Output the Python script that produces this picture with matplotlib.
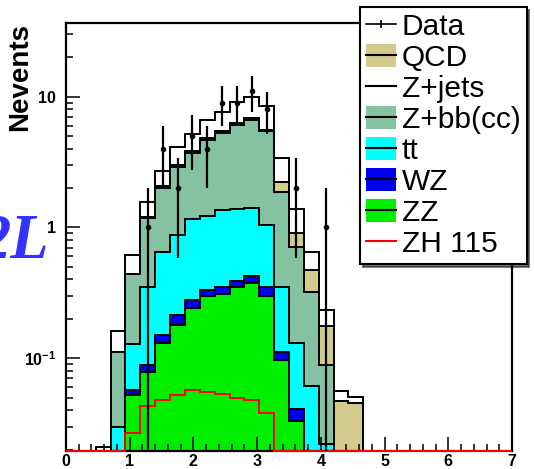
import numpy as np
import matplotlib
matplotlib.use('Agg')
import matplotlib.pyplot as plt
from matplotlib.lines import Line2D
from matplotlib.patches import Patch
from matplotlib.legend_handler import HandlerTuple
from matplotlib.ticker import MultipleLocator, LogLocator, NullFormatter

plt.rcParams['font.family'] = ['Liberation Sans', 'DejaVu Sans']
plt.rcParams['mathtext.fontset'] = 'custom'
plt.rcParams['mathtext.rm'] = 'Liberation Sans'
plt.rcParams['mathtext.bf'] = 'Liberation Sans:bold'

# 30 bins on [0, 7]; only bins 2..19 are filled
all_edges = np.linspace(0, 7, 31)
edges = all_edges[2:21]

zz = [0, 0, 0.052, 0.079, 0.130, 0.180, 0.241, 0.296, 0.310, 0.352, 0.378, 0.296, 0.097, 0.033, 0, 0, 0, 0]
wz = [0, 0, 0.0055, 0.010, 0.021, 0.034, 0.038, 0.037, 0.039, 0.040, 0.050, 0.056, 0.015, 0.0075, 0, 0, 0, 0]
tt = [0, 0.030, 0.071, 0.263, 0.502, 0.663, 0.877, 0.892, 1.012, 0.985, 0.988, 0.693, 0.240, 0.090, 0.061, 0.022, 0, 0]
zbb = [0, 0.082, 0.310, 0.823, 1.342, 2.040, 2.53, 3.44, 3.92, 4.70, 5.22, 4.36, 1.51, 0.583, 0.262, 0.067, 0, 0]
qcd = [0, 0, 0, 0.03, 0.06, 0.09, 0.12, 0.15, 0.17, 0.20, 0.22, 0.18, 0.373, 0.191, 0.150, 0.086, 0.047, 0.045]
zjets = [0.021, 0.048, 0.178, 0.37, 0.66, 1.14, 1.38, 1.82, 2.23, 2.88, 3.14, 2.90, 1.15, 0.473, 0.18, 0.059, 0.009, 0.0055]
zh115 = [0, 0, 0.0267, 0.0427, 0.048, 0.0524, 0.0572, 0.055, 0.053, 0.050, 0.048, 0.038, 0, 0, 0, 0, 0, 0]
data = [0, 0, 0, 1, 4, 2, 5, 4, 9, 9, 11, 8, 0, 2, 0, 1, 0, 0]

legend_labels = ['Data', 'QCD', 'Z+jets', 'Z+bb(cc)', 'tt', 'WZ', 'ZZ', 'ZH 115']

c_qcd = '#d3cb8b'
c_zbb = '#84c2a2'
c_tt = '#00ffff'
c_wz = '#0000f0'
c_zz = '#00ee00'

y_lo, y_hi = 0.0195, 36.5

fig = plt.figure(figsize=(5.34, 4.69), dpi=100)
ax = fig.add_axes([66 / 534, 18 / 469, 446 / 534, 428 / 469])
ax.set_yscale('log', nonpositive='clip')

# cumulative stack, drawn from the top layer down
cum = np.cumsum([zz, wz, tt, zbb, qcd, zjets], axis=0)
colors = [c_zz, c_wz, c_tt, c_zbb, c_qcd, 'white']
for layer, col in reversed(list(zip(cum, colors))):
    ax.stairs(np.maximum(layer, y_lo), edges, baseline=y_lo, fill=True,
              facecolor=col, edgecolor='black', linewidth=1.4)

# signal drawn on its own, across the whole range
zh_full = np.zeros(30)
zh_full[2:20] = zh115
ax.stairs(np.maximum(zh_full, y_lo), all_edges, baseline=None, color='red',
          linewidth=1.4, zorder=5, clip_on=False)

centers = 0.5 * (edges[:-1] + edges[1:])
n = np.array(data, dtype=float)
m = n > 0
ax.errorbar(centers[m], n[m], yerr=np.sqrt(n[m]), fmt='o', ms=3, color='black',
            elinewidth=1.6, capsize=0, zorder=6)

ax.set_xlim(0, 7)
ax.set_ylim(y_lo, y_hi)
ax.xaxis.set_major_locator(MultipleLocator(1))
ax.xaxis.set_minor_locator(MultipleLocator(0.2))
ax.set_yticks([0.1, 1, 10])
ax.set_yticklabels([r'$\mathbf{10^{-1}}$', '1', '10'])
ax.yaxis.set_minor_locator(LogLocator(base=10, subs=np.arange(2, 10)))
ax.yaxis.set_minor_formatter(NullFormatter())
ax.tick_params(which='both', direction='in', top=False, right=False, width=1.1)
ax.tick_params(which='major', length=10, labelsize=11.5)
ax.tick_params(which='minor', length=5)
ax.tick_params(axis='y', pad=7)
ax.tick_params(axis='x', pad=2)
for lab in ax.get_xticklabels() + ax.get_yticklabels():
    lab.set_fontweight('bold')
for sp in ax.spines.values():
    sp.set_linewidth(1.6)

ax.set_ylabel('Nevents', loc='top', fontsize=20, fontweight='bold')
ax.yaxis.set_label_coords(-0.073, 1.0)

fig.text(49 / 534, 1 - 258 / 469, '2L', fontsize=45, family='Liberation Serif',
         style='italic', weight='bold', color='#3333ff', ha='right', va='baseline')

handles = [
    Line2D([], [], color='black', lw=1.2, marker='|', ms=6, mew=1.2),
    (Patch(facecolor=c_qcd), Line2D([], [], color='black', lw=1.5)),
    Line2D([], [], color='black', lw=1.5),
    (Patch(facecolor=c_zbb), Line2D([], [], color='black', lw=1.5)),
    (Patch(facecolor=c_tt), Line2D([], [], color='black', lw=1.5)),
    (Patch(facecolor=c_wz), Line2D([], [], color='black', lw=1.5)),
    (Patch(facecolor=c_zz), Line2D([], [], color='black', lw=1.5)),
    Line2D([], [], color='red', lw=1.5),
]
leg = fig.legend(handles, legend_labels, loc='upper left',
                 bbox_to_anchor=(360 / 534, 1 - 7 / 469), borderaxespad=0,
                 prop={'size': 21.5}, handlelength=1.0, handleheight=0.77,
                 handletextpad=0.2, labelspacing=0.1, borderpad=0.2,
                 fancybox=False, framealpha=1, shadow={'color': 'black'},
                 handler_map={tuple: HandlerTuple(ndivide=1)})
leg.get_frame().set_edgecolor('black')
leg.get_frame().set_linewidth(1.5)

fig.savefig('out.png', dpi=100)
